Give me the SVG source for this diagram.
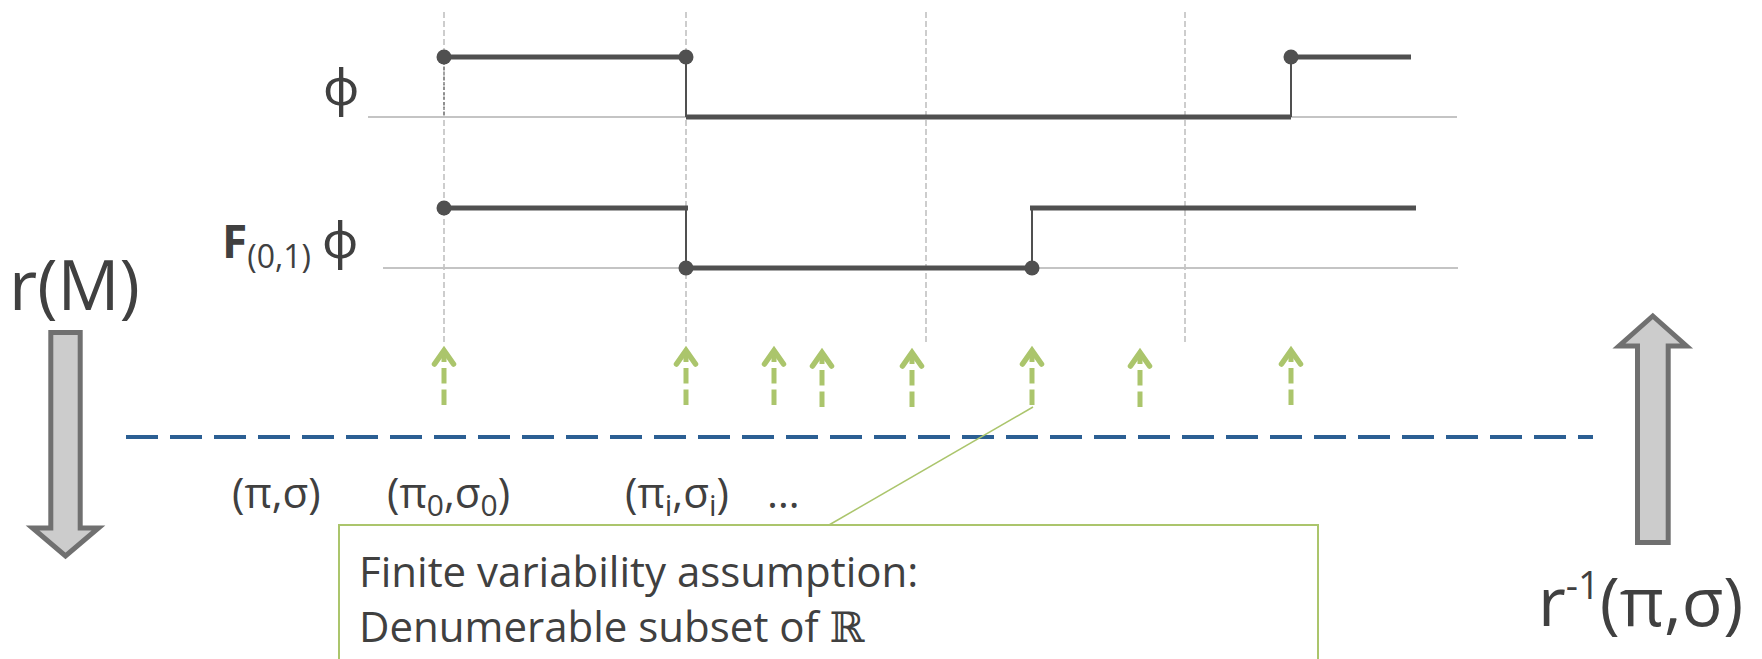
<svg xmlns="http://www.w3.org/2000/svg" width="1762" height="659" viewBox="0 0 1762 659">
  <style>
    .txt { font-family: "Open Sans", "Noto Sans", "DejaVu Sans", sans-serif; fill: #404040; }
    .guide { stroke: #bdbdbd; stroke-width: 1.5; stroke-dasharray: 6 3; fill: none; }
    .base { stroke: #c4c4c4; stroke-width: 2; fill: none; }
    .sig { stroke: #505050; stroke-width: 5; fill: none; }
    .jump { stroke: #505050; stroke-width: 2; fill: none; }
    .dot { fill: #505050; }
    .gshaft { stroke: #abc56c; stroke-width: 5; stroke-dasharray: 15.5 6; fill: none; }
    .ghead { stroke: #abc56c; stroke-width: 5.5; fill: none; stroke-linecap: round; stroke-linejoin: miter; }
    .big { fill: #cccccc; stroke: #707070; stroke-width: 5; stroke-linejoin: miter; }
  </style>

  <!-- guides -->
  <g id="guides">
    <line class="guide" x1="444" y1="12" x2="444" y2="345"/>
    <line class="guide" x1="686" y1="12" x2="686" y2="345"/>
    <line class="guide" x1="926" y1="12" x2="926" y2="343"/>
    <line class="guide" x1="1185" y1="12" x2="1185" y2="343"/>
    <line class="base" x1="368" y1="117" x2="1457" y2="117"/>
    <line class="base" x1="383" y1="268" x2="1458" y2="268"/>
  </g>

  <!-- signal phi -->
  <g id="signal-phi">
    <line x1="444" y1="57" x2="444" y2="117" stroke="#666" stroke-width="1.2" stroke-dasharray="3 2"/>
    <line class="sig" x1="444" y1="57" x2="686" y2="57"/>
    <line class="jump" x1="686" y1="57" x2="686" y2="117"/>
    <line class="sig" x1="686" y1="117" x2="1291" y2="117"/>
    <line class="jump" x1="1291" y1="117" x2="1291" y2="57"/>
    <line class="sig" x1="1291" y1="57" x2="1411" y2="57"/>
    <circle class="dot" cx="444" cy="57" r="7.5"/>
    <circle class="dot" cx="686" cy="57" r="7.5"/>
    <circle class="dot" cx="1291" cy="57" r="7.5"/>
    <text class="txt" x="341" y="105" font-size="50" text-anchor="middle">ϕ</text>
  </g>

  <!-- signal F(0,1) phi -->
  <g id="signal-F">
    <line class="sig" x1="444" y1="208" x2="688" y2="208"/>
    <line class="jump" x1="686" y1="208" x2="686" y2="268"/>
    <line class="sig" x1="686" y1="268" x2="1032" y2="268"/>
    <line class="jump" x1="1032" y1="268" x2="1032" y2="208"/>
    <line class="sig" x1="1030" y1="208" x2="1416" y2="208"/>
    <circle class="dot" cx="444" cy="208" r="7.5"/>
    <circle class="dot" cx="686" cy="268" r="7.5"/>
    <circle class="dot" cx="1032" cy="268" r="7.5"/>
    <text class="txt" x="222" y="258" font-size="46"><tspan font-weight="bold">F</tspan><tspan font-size="32" dy="10">(0,1)</tspan><tspan font-size="50" dy="-10" dx="11">ϕ</tspan></text>
  </g>

  <!-- sampling arrows -->
  <g id="samples">
    <path class="gshaft" d="M444 405 V352"/><polyline class="ghead" points="434.5,364 444,350.5 453.5,364"/>
    <path class="gshaft" d="M686 405 V352"/><polyline class="ghead" points="676.5,364 686,350.5 695.5,364"/>
    <path class="gshaft" d="M774 405 V352"/><polyline class="ghead" points="764.5,364 774,350.5 783.5,364"/>
    <path class="gshaft" d="M822 407 V354"/><polyline class="ghead" points="812.5,366 822,352.5 831.5,366"/>
    <path class="gshaft" d="M912 407 V354"/><polyline class="ghead" points="902.5,366 912,352.5 921.5,366"/>
    <path class="gshaft" d="M1032 405 V352"/><polyline class="ghead" points="1022.5,364 1032,350.5 1041.5,364"/>
    <path class="gshaft" d="M1140 407 V354"/><polyline class="ghead" points="1130.5,366 1140,352.5 1149.5,366"/>
    <path class="gshaft" d="M1291 405 V352"/><polyline class="ghead" points="1281.5,364 1291,350.5 1300.5,364"/>
  </g>

  <!-- separator -->
  <line id="separator" x1="126" y1="437" x2="1593" y2="437" stroke="#2b5f93" stroke-width="4" stroke-dasharray="32 12"/>

  <!-- left big arrow -->
  <g id="arrow-rM">
    <text class="txt" x="9" y="310" font-size="69">r(M)</text>
    <path class="big" d="M50.8 332.5 H80.2 V528 H98.5 L65.5 556 L32.5 528 H50.8 Z"/>
  </g>

  <!-- right big arrow -->
  <g id="arrow-rinv">
    <path class="big" d="M1637.5 542.5 H1668.2 V346 H1686.5 L1652.8 316 L1619 346 H1637.5 Z"/>
    <text class="txt" x="1538" y="626" font-size="68">r<tspan font-size="38" dy="-27">-1</tspan><tspan dy="27">(π,σ)</tspan></text>
  </g>

  <!-- run labels -->
  <g id="runs">
    <text class="txt" x="232" y="508" font-size="42">(π,σ)</text>
    <text class="txt" x="387" y="508" font-size="42">(π<tspan font-size="30" dy="8">0</tspan><tspan dy="-8">,σ</tspan><tspan font-size="30" dy="8">0</tspan><tspan dy="-8">)</tspan></text>
    <text class="txt" x="625" y="508" font-size="42">(π<tspan font-size="30" dy="8">i</tspan><tspan dy="-8">,σ</tspan><tspan font-size="30" dy="8">i</tspan><tspan dy="-8">)</tspan></text>
    <text class="txt" x="767" y="508" font-size="42">…</text>
  </g>

  <!-- callout -->
  <g id="callout">
    <line x1="829" y1="525" x2="1033" y2="407" stroke="#abc56c" stroke-width="1.5"/>
    <rect x="339" y="525" width="979" height="150" fill="#ffffff" stroke="#abc56c" stroke-width="2"/>
    <text class="txt" x="359" y="587" font-size="42">Finite variability assumption:</text>
    <text class="txt" x="359" y="642" font-size="42">Denumerable subset of <tspan font-family="DejaVu Serif, serif">ℝ</tspan></text>
  </g>
</svg>
